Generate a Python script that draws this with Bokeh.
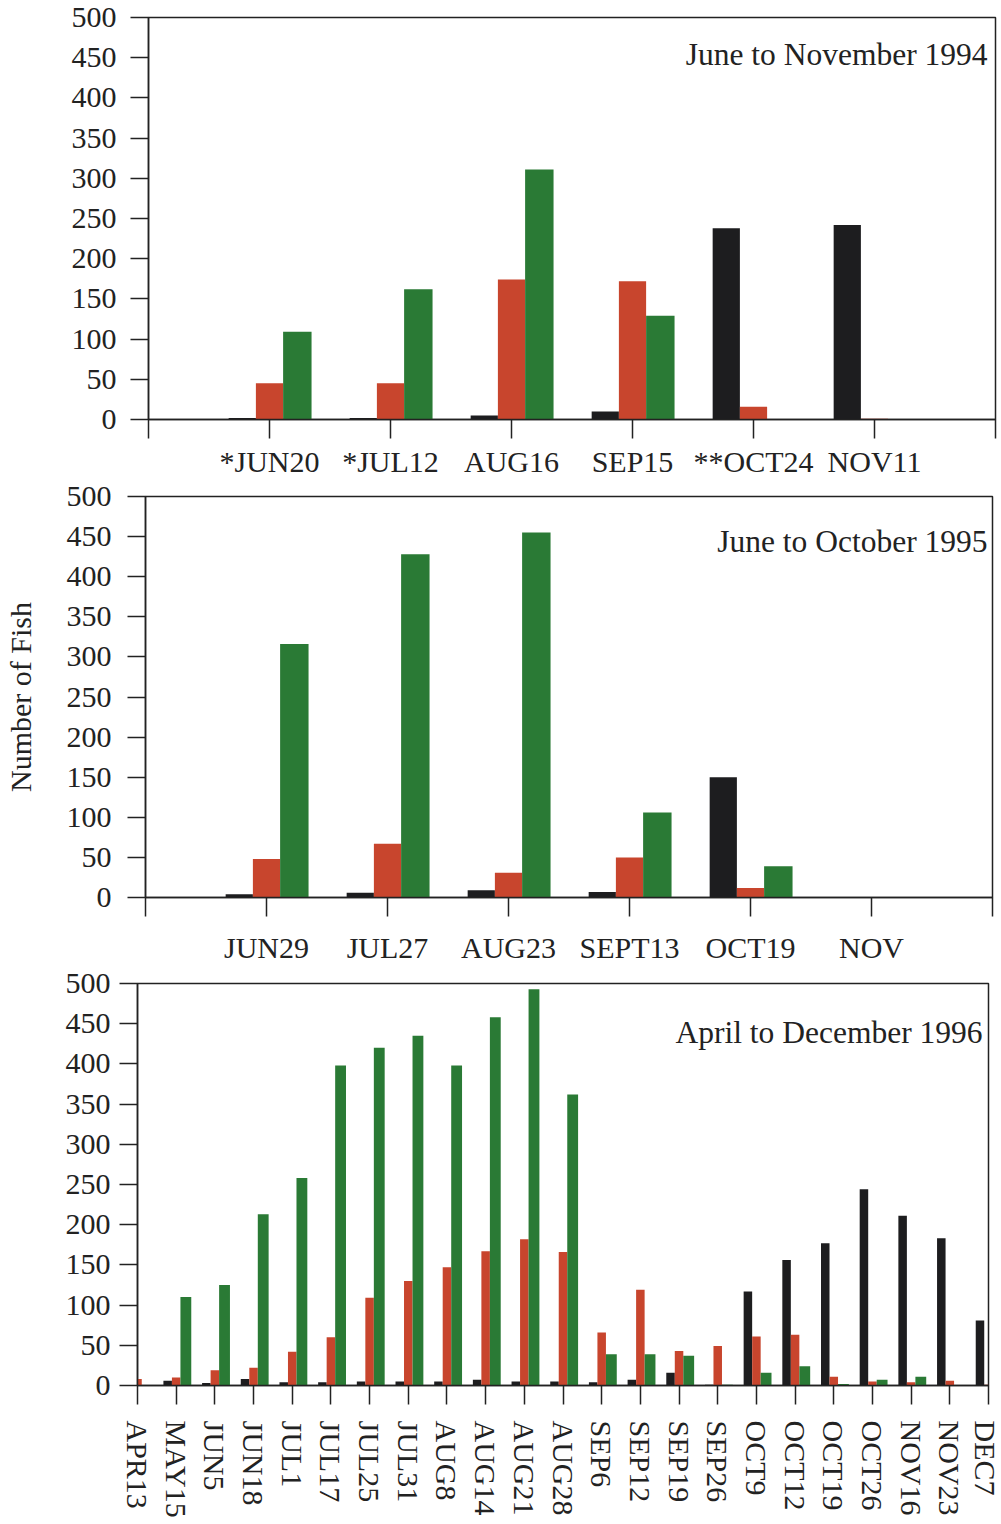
from bokeh.plotting import figure
from bokeh.layouts import column, row
from bokeh.models import FixedTicker, Label, Range1d, ColumnDataSource
from bokeh.transform import dodge
from bokeh.embed import file_html
from bokeh.resources import INLINE
import math

# ---------------- data ----------------
dates_1994 = ["*JUN20", "*JUL12", "AUG16", "SEP15", "**OCT24", "NOV11"]
black_1994 = [2, 2, 5, 10, 238, 242]
red_1994 = [45, 45, 174, 172, 16, 1]
green_1994 = [109, 162, 311, 129, 0, 0]

dates_1995 = ["JUN29", "JUL27", "AUG23", "SEPT13", "OCT19", "NOV"]
black_1995 = [4, 6, 9, 7, 150, 0]
red_1995 = [48, 67, 31, 50, 12, 0]
green_1995 = [316, 428, 455, 106, 39, 0]

dates_1996 = ["APR13", "MAY15", "JUN5", "JUN18", "JUL1", "JUL17", "JUL25", "JUL31",
              "AUG8", "AUG14", "AUG21", "AUG28", "SEP6", "SEP12", "SEP19", "SEP26",
              "OCT9", "OCT12", "OCT19", "OCT26", "NOV16", "NOV23", "DEC7"]
black_1996 = [0, 6, 3, 8, 4, 4, 5, 5, 5, 7, 5, 5, 4, 7, 16, 1, 117, 156, 177, 244, 211, 183, 81]
red_1996 = [8, 10, 19, 22, 42, 60, 109, 130, 147, 167, 182, 166, 66, 119, 43, 49, 61, 63, 11, 5, 4, 6, 1]
green_1996 = [0, 110, 125, 213, 258, 398, 420, 435, 398, 458, 493, 362, 39, 39, 37, 1, 16, 24, 2, 7, 11, 0, 0]

titles = ["June to November 1994", "June to October 1995", "April to December 1996"]
y_ticks = list(range(0, 501, 50))
y_axis_title = "Number of Fish"

BLACK = "#1d1d1f"
RED = "#c8452d"
GREEN = "#2a7a35"
INK = "#222222"
FONT = "Liberation Serif"


def style(p, tick_standoff_y):
    p.background_fill_color = "white"
    p.border_fill_color = "white"
    p.outline_line_color = INK
    p.outline_line_width = 1.5
    p.xgrid.visible = False
    p.ygrid.visible = False
    for ax in (p.xaxis[0], p.yaxis[0]):
        ax.axis_line_color = INK
        ax.axis_line_width = 1.5
        ax.major_tick_line_color = INK
        ax.major_tick_line_width = 1.5
        ax.major_tick_in = 0
        ax.minor_tick_line_color = None
        ax.major_label_text_font = FONT
        ax.major_label_text_font_size = "30px"
        ax.major_label_text_color = INK
    p.yaxis.ticker = FixedTicker(ticks=y_ticks)
    p.yaxis.major_tick_out = 18
    p.yaxis.major_label_standoff = tick_standoff_y
    p.xaxis.major_tick_out = 19


def panel(labels, black, red, green, offset, n_end, frame_left, frame_width,
          border_top, frame_height, border_bottom, title, title_dx, title_dy,
          bar_w, green_w, standoff_y, x_standoff, vertical=False):
    xs = [i + offset for i in range(len(labels))]
    src = ColumnDataSource(dict(x=xs, black=black, red=red, green=green))
    p = figure(output_backend="svg", toolbar_location=None,
               x_range=Range1d(0, n_end), y_range=Range1d(0, 500),
               frame_width=frame_width, frame_height=frame_height,
               min_border_left=frame_left, min_border_right=1001 - frame_left - frame_width,
               min_border_top=border_top, min_border_bottom=border_bottom)
    p.vbar(x=dodge("x", -bar_w, range=p.x_range), top="black", width=bar_w,
           source=src, fill_color=BLACK, line_color=None)
    p.vbar(x="x", top="red", width=bar_w, source=src, fill_color=RED, line_color=None)
    p.vbar(x=dodge("x", bar_w / 2 + green_w / 2, range=p.x_range), top="green", width=green_w,
           source=src, fill_color=GREEN, line_color=None)
    style(p, standoff_y)
    ticks = list(range(0, n_end + 1))
    p.xaxis.ticker = FixedTicker(ticks=ticks)
    overrides = {t: "" for t in ticks}
    for x, lab in zip(xs, labels):
        overrides[x] = lab
    p.xaxis.major_label_overrides = overrides
    p.xaxis.major_label_standoff = x_standoff
    if vertical:
        p.xaxis.major_label_orientation = -math.pi / 2
    p.add_layout(Label(x=n_end, y=500, x_units="data", y_units="data",
                       x_offset=-title_dx, y_offset=-title_dy, text=title,
                       text_align="right", text_baseline="alphabetic",
                       text_font=FONT, text_font_size="31.5px", text_color=INK))
    return p


p1 = panel(dates_1994, black_1994, red_1994, green_1994, 1, 7,
           148, 847, 17, 402, 60, titles[0], 8, 37, 0.225, 0.235, 14, 6)
p2 = panel(dates_1995, black_1995, red_1995, green_1995, 1, 7,
           145, 847, 16, 401, 67, titles[1], 5, 45, 0.225, 0.235, 16, 14)
p2.yaxis.axis_label = y_axis_title
p2.yaxis.axis_label_text_font = FONT
p2.yaxis.axis_label_text_font_size = "30px"
p2.yaxis.axis_label_text_font_style = "normal"
p2.yaxis.axis_label_text_color = INK
p2.yaxis.axis_label_standoff = 27
p3 = panel(dates_1996, black_1996, red_1996, green_1996, 0, 22,
           137, 851, 17, 402, 142, titles[2], 6, 49, 0.22, 0.28, 9, 16, vertical=True)

layout = column(row(p1), row(p2), row(p3), spacing=0)
open("out.html", "w").write(file_html(layout, INLINE))
